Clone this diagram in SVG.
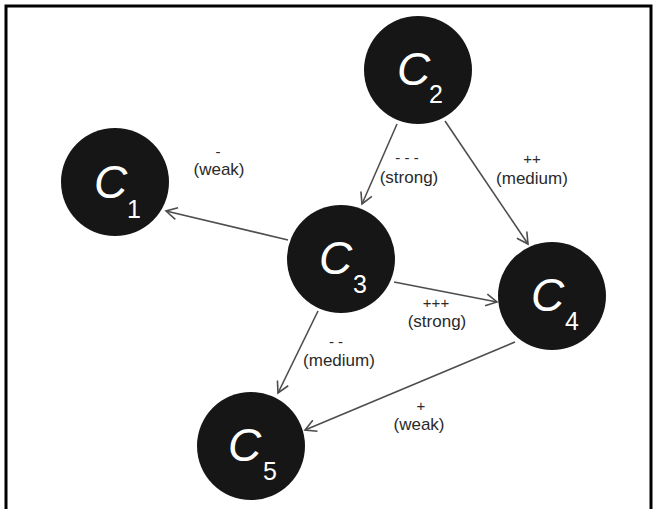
<svg xmlns="http://www.w3.org/2000/svg" width="657" height="509" viewBox="0 0 657 509">
  <style>
    .node circle { fill: #161616; }
    .cap { font-family: "Liberation Sans", Arial, sans-serif; font-style: italic; fill: #ffffff; font-size: 46px; }
    .sub { font-family: "Liberation Sans", Arial, sans-serif; fill: #ffffff; font-size: 25px; }
    .edge { stroke: #4d4d4d; stroke-width: 1.6; fill: none; marker-end: url(#arrow); }
    .lbl { font-family: "Liberation Sans", Arial, sans-serif; font-size: 17px; fill: #2a2a2a; text-anchor: middle; }
    .sgn { font-family: "Liberation Sans", Arial, sans-serif; font-size: 15px; fill: #2a2a2a; text-anchor: middle; }
  </style>
  <defs>
    <marker id="arrow" markerUnits="userSpaceOnUse" markerWidth="14" markerHeight="14" viewBox="0 0 14 14" refX="12" refY="7" orient="auto">
      <path d="M1,1 L12,7 L1,13" fill="none" stroke="#4d4d4d" stroke-width="1.6"/>
    </marker>
  </defs>

  <rect x="0" y="0" width="657" height="509" fill="#ffffff"/>
  <!-- outer frame -->
  <path d="M6,515 L6,6 L651,6 L651,515" fill="none" stroke="#000000" stroke-width="3"/>

  <g id="connectors">
    <line class="edge" x1="397" y1="124" x2="362" y2="204"/>
    <line class="edge" x1="445" y1="121" x2="528" y2="244"/>
    <line class="edge" x1="288" y1="240" x2="166" y2="211"/>
    <line class="edge" x1="394" y1="282" x2="497" y2="302"/>
    <line class="edge" x1="318" y1="311" x2="278" y2="393"/>
    <line class="edge" x1="515" y1="342" x2="305" y2="430"/>
  </g>

  <g id="labels">
    <text class="sgn" x="407" y="163">- - -</text>
    <text class="lbl" x="409" y="183">(strong)</text>
    <text class="sgn" x="532" y="164">++</text>
    <text class="lbl" x="532" y="184">(medium)</text>
    <text class="sgn" x="218" y="157">-</text>
    <text class="lbl" x="219" y="175">(weak)</text>
    <text class="sgn" x="436" y="308">+++</text>
    <text class="lbl" x="437" y="327">(strong)</text>
    <text class="sgn" x="336" y="347">- -</text>
    <text class="lbl" x="339" y="366">(medium)</text>
    <text class="sgn" x="421" y="411">+</text>
    <text class="lbl" x="419" y="430">(weak)</text>
  </g>

  <g id="C1" class="node">
    <circle cx="115" cy="182" r="54"/>
    <text class="cap" x="94" y="198">C</text>
    <text class="sub" x="127" y="218">1</text>
  </g>
  <g id="C2" class="node">
    <circle cx="418" cy="70" r="54"/>
    <text class="cap" x="397" y="85">C</text>
    <text class="sub" x="429" y="103">2</text>
  </g>
  <g id="C3" class="node">
    <circle cx="341" cy="259" r="54"/>
    <text class="cap" x="319" y="274">C</text>
    <text class="sub" x="353" y="293">3</text>
  </g>
  <g id="C4" class="node">
    <circle cx="552" cy="296" r="54"/>
    <text class="cap" x="531" y="311">C</text>
    <text class="sub" x="565" y="330">4</text>
  </g>
  <g id="C5" class="node">
    <circle cx="251" cy="446" r="54"/>
    <text class="cap" x="228" y="461">C</text>
    <text class="sub" x="263" y="480">5</text>
  </g>
</svg>
